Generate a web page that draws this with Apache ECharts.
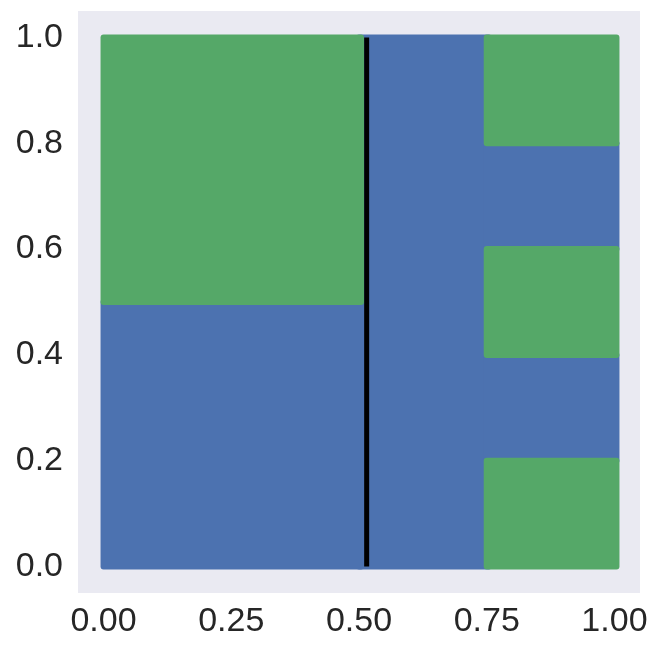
<!DOCTYPE html>
<html>
<head>
<meta charset="utf-8">
<script src="https://cdn.jsdelivr.net/npm/echarts@6/dist/echarts.min.js"></script>
<style>html,body{margin:0;padding:0;background:#fff}#c{width:664px;height:655px}</style>
</head>
<body>
<div id="c"></div>
<script>
// Regions of class-0 (blue) points: [x0, x1, y0, y1]
const blueRegions = [
  [0.0, 0.5, 0.0, 0.5],
  [0.5, 0.75, 0.0, 1.0],
  [0.75, 1.0, 0.2, 0.4],
  [0.75, 1.0, 0.6, 0.8]
];
// Regions of class-1 (green) points: [x0, x1, y0, y1]
const greenRegions = [
  [0.0, 0.5, 0.5, 1.0],
  [0.75, 1.0, 0.0, 0.2],
  [0.75, 1.0, 0.4, 0.6],
  [0.75, 1.0, 0.8, 1.0]
];
// Decision threshold line
const thresholdX = 0.515;
const thresholdLine = [[thresholdX, 0.0], [thresholdX, 1.0]];
const xTicks = [0, 0.25, 0.5, 0.75, 1.0];
const yTicks = [0, 0.2, 0.4, 0.6, 0.8, 1.0];

const BLUE = '#4C72B0', GREEN = '#55A868';
const PAD = 3; // half marker size

function rectRender(color) {
  return function (params, api) {
    const p0 = api.coord([api.value(0), api.value(3)]);
    const p1 = api.coord([api.value(1), api.value(2)]);
    return {
      type: 'rect',
      shape: { x: p0[0] - PAD, y: p0[1] - PAD, width: p1[0] - p0[0] + 2 * PAD + 2, height: p1[1] - p0[1] + 2 * PAD, r: 3 },
      style: { fill: color }
    };
  };
}

const chart = echarts.init(document.getElementById('c'), null, { renderer: 'canvas' });
const labelStyle = { color: '#262626', fontSize: 34, fontFamily: 'Liberation Sans, Arial, sans-serif' };
chart.setOption({
  animation: false,
  grid: { left: 78, right: 24, top: 11, bottom: 62, show: true, backgroundColor: '#EAEAF2', borderWidth: 0 },
  xAxis: {
    type: 'value', min: -0.05, max: 1.05,
    axisLine: { show: false }, axisTick: { show: false }, splitLine: { show: false },
    axisLabel: Object.assign({
      margin: 12,
      customValues: xTicks,
      formatter: v => v.toFixed(2)
    }, labelStyle)
  },
  yAxis: {
    type: 'value', min: -0.05, max: 1.05,
    axisLine: { show: false }, axisTick: { show: false }, splitLine: { show: false },
    axisLabel: Object.assign({
      margin: 15,
      customValues: yTicks,
      formatter: v => v.toFixed(1)
    }, labelStyle)
  },
  series: [
    { type: 'custom', renderItem: rectRender(BLUE), data: blueRegions, encode: { x: [0, 1], y: [2, 3] }, z: 2 },
    { type: 'custom', renderItem: rectRender(GREEN), data: greenRegions, encode: { x: [0, 1], y: [2, 3] }, z: 3 },
    { type: 'line', data: thresholdLine, symbol: 'none', lineStyle: { color: '#000', width: 5 }, z: 5 }
  ]
});
</script>
</body>
</html>
